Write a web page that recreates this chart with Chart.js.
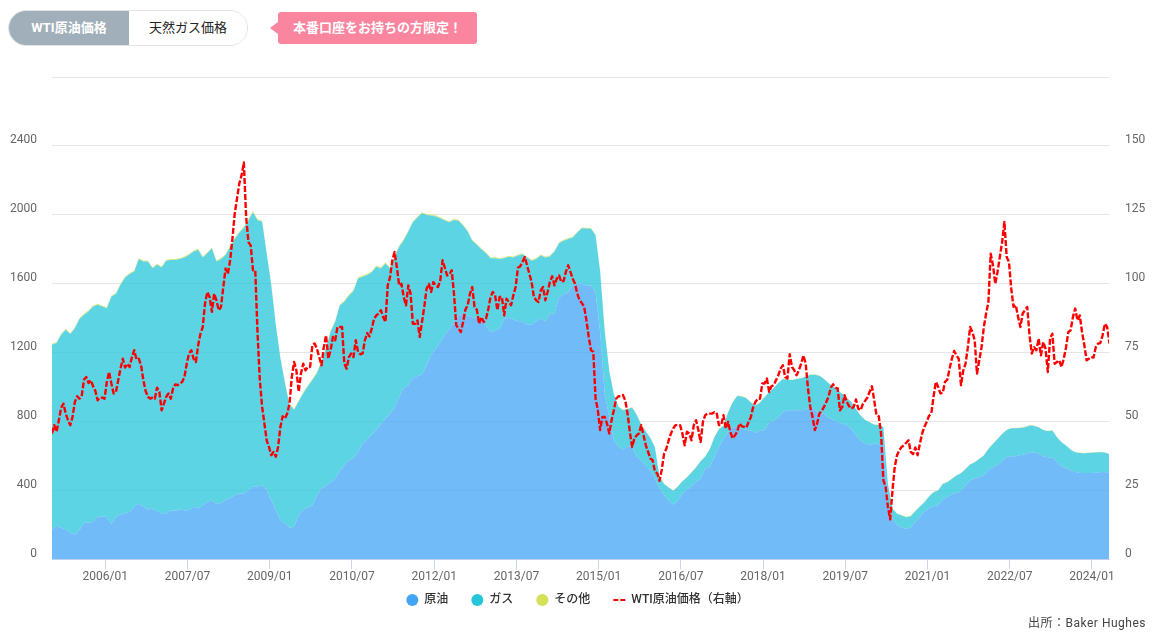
<!DOCTYPE html>
<html lang="ja">
<head>
<meta charset="utf-8">
<title>リグ稼働数とWTI原油価格</title>
<script src="https://cdn.jsdelivr.net/npm/chart.js@4/dist/chart.umd.min.js"></script>
<style>
  html, body { margin: 0; padding: 0; background: #fff; }
  body { width: 1155px; height: 639px; position: relative; overflow: hidden;
         font-family: Roboto, "Noto Sans CJK JP", sans-serif; }
  #rigChart { position: absolute; left: 0; top: 0; }
  .tabs { position: absolute; left: 8px; top: 10px; width: 238px; height: 34px; border: 1px solid #dfe3e6;
          border-radius: 18px; overflow: hidden; display: flex; font-size: 13px; }
  .tabs div { line-height: 34px; text-align: center; }
  .tabs .on { width: 120px; background: #a0afb9; color: #fff; font-weight: bold; }
  .tabs .off { width: 118px; background: #fff; color: #222; }
  .promo { position: absolute; left: 278px; top: 12px; width: 199px; height: 32px; line-height: 32px;
           background: #f9859e; color: #fff; font-size: 13px; font-weight: bold; text-align: center; border-radius: 3px; }
  .promo:before { content: ""; position: absolute; left: -8px; top: 10px; border-style: solid;
                  border-width: 6px 8px 6px 0; border-color: transparent #f9859e transparent transparent; }
  .source { position: absolute; right: 9px; top: 613px; font-size: 12px; color: #444; letter-spacing: 0.5px; }
</style>
</head>
<body>
<canvas id="rigChart" width="1155" height="616"></canvas>
<div class="tabs"><div class="on">WTI原油価格</div><div class="off">天然ガス価格</div></div>
<div class="promo">本番口座をお持ちの方限定！</div>
<div class="source">出所：Baker Hughes</div>
<script>
// months counted from the first data point (2005/01)
const tickMonths = [11.67, 29.67, 47.67, 65.67, 83.67, 101.67, 119.67, 137.67, 155.67, 173.67, 191.67, 209.67, 227.67];
const tickLabels = ['2006/01', '2007/07', '2009/01', '2010/07', '2012/01', '2013/07', '2015/01', '2016/07', '2018/01', '2019/07', '2021/01', '2022/07', '2024/01'];

// rig counts, one value per month
const oilRigs = [
  170,195,184,174,155,145,170,213,213,218,247,247,247,205,247,261,267,276,305,325,305,290,296,280,270,263,286,282,290,286,286,305,296,315,334,344,321,328,344,
  357,373,383,383,402,421,421,435,402,344,286,228,209,184,189,257,290,301,315,373,412,431,446,469,514,547,576,585,624,676,696,726,753,788,817,846,885,943,997,
  1010,1055,1065,1074,1126,1190,1223,1262,1306,1333,1383,1416,1430,1416,1406,1401,1383,1358,1320,1329,1339,1397,1401,1391,1383,1383,1364,1364,1383,1401,1383,1426,1426,1522,1538,1551,1590,1600,1600,
  1590,1590,1551,1321,962,827,692,657,638,657,653,599,572,547,518,469,412,373,344,319,340,383,406,425,450,469,527,537,595,653,701,740,765,769,759,753,746,734,750,
  750,798,804,823,856,866,866,866,866,869,885,866,846,846,823,811,798,788,779,759,721,692,672,663,672,668,664,325,238,199,185,178,185,218,247,276,296,309,315,
  348,363,379,386,398,431,460,469,479,489,518,537,547,572,595,599,599,605,611,622,620,614,599,593,591,566,541,531,518,508,502,502,502,502,506,508,506,504
];
const gasRigs = [
  1076,1061,1120,1159,1153,1197,1225,1207,1226,1250,1231,1221,1211,1321,1293,1333,1369,1380,1366,1419,1424,1439,1394,1430,1424,1470,1452,1456,1454,1466,1481,1482,1501,1437,1443,1462,1408,1416,1423,
  1458,1486,1513,1542,1567,1593,1548,1525,1374,1249,1075,940,814,713,679,659,675,702,727,708,736,795,876,911,959,949,955,973,1007,965,955,940,946,901,901,843,872,872,856,
  893,902,919,935,873,806,767,718,661,624,587,549,508,487,443,425,417,419,428,419,405,351,355,361,381,388,388,369,361,363,369,332,361,313,311,309,278,297,322,
  331,329,331,352,364,267,267,229,228,215,229,240,209,196,186,181,68,64,74,80,82,70,70,80,84,100,69,103,113,103,75,113,146,180,187,183,165,158,161,
  191,172,191,201,191,177,175,181,185,192,187,206,220,201,199,192,185,172,158,153,152,143,137,133,110,112,104,113,56,66,70,67,66,62,60,56,69,81,85,
  90,85,88,101,102,94,91,95,104,114,123,133,152,156,156,162,162,158,156,155,155,153,152,151,157,143,139,130,118,114,116,114,116,118,116,114,110,99
];
const otherRigs = [
  6,6,6,6,5,6,6,6,7,6,6,6,6,6,6,7,6,6,6,6,6,6,6,6,7,6,6,6,6,7,6,6,6,6,6,6,6,6,6,
  7,7,7,7,8,7,7,7,7,7,7,7,7,7,7,7,7,7,7,7,7,7,8,7,7,7,7,7,7,7,7,7,7,7,7,7,7,7,7,
  6,6,6,6,6,6,7,6,6,6,6,6,6,6,6,6,6,6,6,6,6,6,6,6,6,6,6,6,6,6,6,6,5,6,6,6,6,5,5,
  4,4,4,3,3,3,3,3,3,3,3,3,2,2,2,2,2,2,2,3,3,2,2,3,3,2,2,2,2,2,2,2,2,2,2,2,3,3,3,
  3,2,2,2,2,2,2,2,2,2,2,2,2,2,2,2,2,2,2,2,2,2,2,2,2,2,2,2,2,2,2,2,2,2,2,2,2,2,2,
  2,2,2,2,2,2,2,2,2,2,2,2,2,2,2,2,2,2,3,2,2,2,2,2,2,2,2,2,2,2,2,2,2,2,2,2,2,2
];

// WTI close in USD, one value per half month
const wtiPrice = [
  45.7,48.7,46.3,50.5,55,56.5,52.9,50.5,48.7,51.7,57.1,59.2,58.3,59.2,65.2,66.2,64,65,62.8,61.1,57.7,58.7,58.7,58.3,64.4,68,63.8,60.2,60.8,65,69.2,72.8,69.6,71,69.8,73.4,75.9,72.5,72.8,70.4,
  65,61.1,59,58.3,58.7,58.3,62.3,60.8,54.1,56.5,59,60.2,58.3,62,63.5,63.2,63.8,64.4,66.2,71,74.7,75.9,72.8,71.6,77.7,81.9,84.3,92.8,97,95.2,89.8,96.4,94,90.4,91.6,98.8,105.5,103.6,
  108.5,116.3,125.4,130.8,136.3,139.3,144,124.2,115.1,113.9,104.9,104.9,81.9,65,55.3,49.3,43.2,40.8,37.8,39,37.2,40.8,48.1,51.9,51.1,52.9,56.5,66.2,71.6,68.6,60.8,67.4,71,68.6,69.8,69.8,
  77.7,78.3,76.4,73.4,70.4,77,81.3,72.8,75.9,80.7,79.5,84.3,84.3,84.3,71,69.2,73.4,74.7,73.4,79.5,75.3,74.4,74.7,79.5,82.1,80.9,83.7,87.3,88.5,89.2,90.4,87.9,86.1,99.4,102.4,108.5,111.5,106,99.4,100,95.2,92.2,
  99.4,96.4,85.5,85.5,86.7,80.7,86.1,91.6,98.2,100,97,100.6,99.4,98.8,101.2,108.5,105.8,103,103.4,104.9,96.4,84.9,83.7,82.5,86.1,90.6,92.2,96.4,98.8,91.6,90.6,85.5,87.9,86.1,87.3,90.6,95.2,97,95.8,90.4,
  95.2,95.2,88.5,94.6,93.4,92.2,95.8,98.8,105.8,106.3,107.9,109.7,106.7,103.6,100.6,95.2,94,93.4,97.6,98.8,94,97,100.6,102.7,99.4,101.8,103,100.6,101,104.3,106.7,104.3,101.8,100,96.4,94,93,91.6,
  86.7,80.7,75.9,75.3,58.3,54.1,46.9,51.7,51.7,49.3,45.7,50.5,54.1,58.3,59.2,59.2,59.6,57.7,52.9,46.3,40.8,43.9,45,45.7,48.7,45,41.4,39,36.6,36,31.8,31.2,28.5,32.6,38.4,40.2,43.2,45.7,47.5,48.7,
  48.7,48.7,45.7,41.4,46.3,45.7,43.2,48.7,50.5,46.9,42.6,49.9,52.3,52.9,52.9,52.9,53.4,53.2,48.7,48.7,52.3,47.5,49.9,46.3,43.9,45,46.3,49.3,48.3,48.1,47.8,49.9,51.7,55.3,57.1,58.3,58.3,63.8,
  63.8,65.6,60.8,62.8,63.2,65,66.8,69.2,70.4,66.2,65.6,74.4,69.8,68.6,66.8,68.6,71,74,71,62,55.3,51.7,46.9,49.3,52.9,53.9,55.3,57.1,59,62.3,63.5,62.3,62,54.1,55.3,59.6,57.1,55.6,54.7,55.3,
  58,54.7,54.1,56.3,57.5,58.7,60.8,62.8,57.7,52.3,51.9,45.7,28.8,26.3,19.1,14.5,25.1,33.6,37.8,39.6,40.8,41.4,42.3,43.2,39,38.2,40.6,37.8,42,45.7,48.1,49.9,52.1,52.9,59.2,64.4,62.6,60.2,
  60.4,64.4,65.2,69.2,72.8,75.6,74,72.8,63.2,68.6,71,77,84.3,82.5,79.5,67.4,72.2,77,84.3,89.2,93.4,110.9,106.7,100,104.3,109.7,115.1,122.4,109.7,107.9,98.2,91.6,92.2,87.9,84.3,89.2,90.4,91.6,
  81.3,74.7,77,75.9,80.1,74,78.9,76.5,68,80.1,81.9,71,71.6,72.2,69.8,72.8,77,82.5,83.1,87.9,91,86.7,88.5,82.5,77.7,72.2,72.8,73.4,73.2,77,78.3,78.5,81.3,85.5,84.3,78.3
];

const monthly = values => values.map((y, i) => ({ x: i, y }));
const halfMonthly = values => values.map((y, i) => ({ x: i / 2, y }));

const fontStack = 'Roboto, "Noto Sans CJK JP", sans-serif';

new Chart(document.getElementById('rigChart'), {
  type: 'line',
  data: {
    datasets: [
      { label: '原油', data: monthly(oilRigs), yAxisID: 'y', order: 1, fill: 'origin', borderWidth: 0, pointRadius: 0,
        backgroundColor: 'rgba(66,165,245,0.75)', borderColor: '#42a5f5' },
      { label: 'ガス', data: monthly(gasRigs), yAxisID: 'y', order: 1, fill: '-1', borderWidth: 0, pointRadius: 0,
        backgroundColor: 'rgba(38,198,218,0.75)', borderColor: '#26c6da' },
      { label: 'その他', data: monthly(otherRigs), yAxisID: 'y', order: 1, fill: '-1', borderWidth: 0, pointRadius: 0,
        backgroundColor: 'rgba(212,225,87,0.75)', borderColor: '#d4e157' },
      { label: 'WTI原油価格（右軸）', data: halfMonthly(wtiPrice), yAxisID: 'y1', order: 0, fill: false, borderWidth: 2.4,
        borderDash: [6, 2], borderJoinStyle: 'round', pointRadius: 0, borderColor: '#ff0000', backgroundColor: '#ff0000', tension: 0 }
    ]
  },
  options: {
    responsive: false,
    animation: false,
    layout: { padding: { top: 77, left: 0, right: 0, bottom: 0 } },
    plugins: {
      tooltip: { enabled: false },
      legend: {
        position: 'bottom',
        labels: {
          usePointStyle: true,
          boxHeight: 8.5,
          boxWidth: 12,
          padding: 11,
          color: '#333',
          font: { family: fontStack, size: 12, weight: '500' },
          sort: (a, b) => a.datasetIndex - b.datasetIndex,
          generateLabels: chart => chart.data.datasets.map((ds, i) => ({
            // full width space keeps the items as far apart as in the reference
            text: i === 3 ? ds.label : ds.label + '\u3000',
            datasetIndex: i,
            fillStyle: ds.borderColor,
            strokeStyle: ds.borderColor,
            lineWidth: i === 3 ? 2 : 0,
            lineDash: i === 3 ? [5, 2] : [],
            pointStyle: i === 3 ? 'line' : 'circle',
            fontColor: '#333'
          }))
        }
      }
    },
    scales: {
      x: {
        type: 'linear',
        min: 0,
        max: 231.4,
        afterBuildTicks: axis => { axis.ticks = tickMonths.map(value => ({ value })); },
        afterFit: axis => { axis.height = 23.6; },
        border: { color: '#ccd6eb' },
        grid: { drawOnChartArea: false, drawTicks: true, tickLength: 10, color: '#ccd6eb' },
        ticks: {
          autoSkip: false, maxRotation: 0, padding: 0, color: '#666',
          font: { family: fontStack, size: 12 },
          callback: (v, i) => tickLabels[i]
        }
      },
      y: {
        stacked: true,
        position: 'left',
        min: 0,
        max: 2800,
        afterFit: axis => { axis.width = 52; },
        border: { display: false },
        grid: { color: '#e6e6e6', drawTicks: false },
        ticks: {
          stepSize: 400, padding: 15, labelOffset: -5.5, color: '#666',
          font: { family: fontStack, size: 12 },
          callback: v => (v === 2800 ? '' : v)
        }
      },
      y1: {
        position: 'right',
        min: 0,
        max: 175,
        afterFit: axis => { axis.width = 46; },
        border: { display: false },
        grid: { drawOnChartArea: false, drawTicks: false },
        ticks: {
          stepSize: 25, padding: 16, labelOffset: -5.5, color: '#666',
          font: { family: fontStack, size: 12 },
          callback: v => (v === 175 ? '' : v)
        }
      }
    }
  }
});
</script>
</body>
</html>
